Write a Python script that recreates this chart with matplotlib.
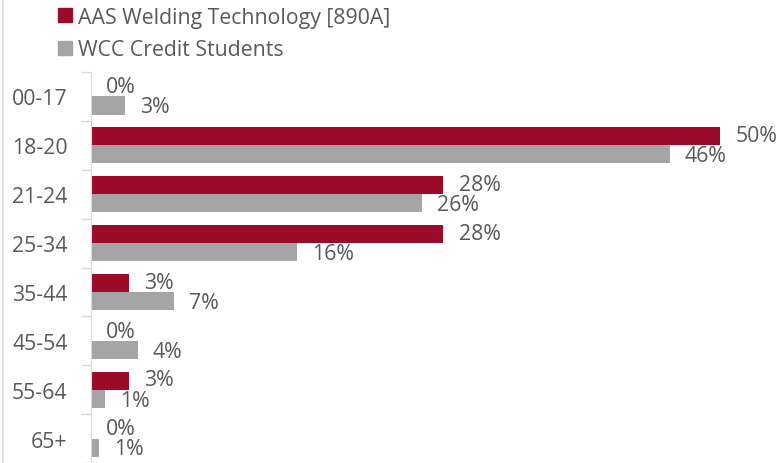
import numpy as np
import matplotlib
matplotlib.use("Agg")
import matplotlib.pyplot as plt
from matplotlib.lines import Line2D

plt.rcParams['font.family'] = ['Open Sans', 'DejaVu Sans']

# age groups and shares (percent)
ages = ['00-17', '18-20', '21-24', '25-34', '35-44', '45-54', '55-64', '65+']
program = [0, 50, 28, 28, 3, 0, 3, 0]
wcc = [2.7, 46, 26.3, 16.4, 6.6, 3.7, 1.1, 0.6]
series_names = ['AAS Welding Technology [890A]', 'WCC Credit Students']

red = '#9B0A28'
gray = '#A5A5A5'
txt = '#595959'
fs = 15.3

fig = plt.figure(figsize=(7.83, 4.64), dpi=100)
ax = fig.add_axes([91 / 783, 0, 1 - 91 / 783, 1 - 73 / 464])

y = np.arange(len(ages))
h = 0.37
ax.barh(y - h / 2, program, height=h, color=red, label=series_names[0])
ax.barh(y + h / 2, wcc, height=h, color=gray, label=series_names[1])

for i in range(len(ages)):
    ax.annotate(f'{program[i]:.0f}%', (program[i], y[i] - h / 2),
                xytext=(11, 0.5), textcoords='offset points',
                va='center', ha='left', fontsize=fs, color=txt)
    ax.annotate(f'{wcc[i]:.0f}%', (wcc[i], y[i] + h / 2),
                xytext=(11, -1), textcoords='offset points',
                va='center', ha='left', fontsize=fs, color=txt)

ax.set_ylim(len(ages) - 0.5, -0.5)
ax.set_xlim(0, (783 - 91) / 12.58)
ax.set_xticks([])

ax.set_yticks(np.arange(len(ages) + 1) - 0.5)
ax.set_yticklabels([])
ax.set_yticks(y, minor=True)
ax.set_yticklabels(ages, minor=True)
ax.tick_params(axis='y', which='major', length=7, color='#D9D9D9', width=1)
ax.tick_params(axis='y', which='minor', length=0, pad=17, labelsize=fs,
               labelcolor=txt)

for s in ['top', 'right', 'bottom']:
    ax.spines[s].set_visible(False)
ax.spines['left'].set_color('#D9D9D9')

# chart area border at the left edge
fig.add_artist(Line2D([3 / 783, 3 / 783], [0, 1], color='#D9D9D9', lw=1.2))

handles = [plt.Rectangle((0, 0), 1, 1, color=red),
           plt.Rectangle((0, 0), 1, 1, color=gray)]
fig.legend(handles, series_names, loc='upper left',
           bbox_to_anchor=(47 / 783, 1 + 3 / 464), frameon=False, fontsize=fs,
           labelcolor=txt, handlelength=0.68, handleheight=0.68,
           handletextpad=0.3, labelspacing=0.55, borderpad=0)

fig.savefig('out.png', dpi=100)
